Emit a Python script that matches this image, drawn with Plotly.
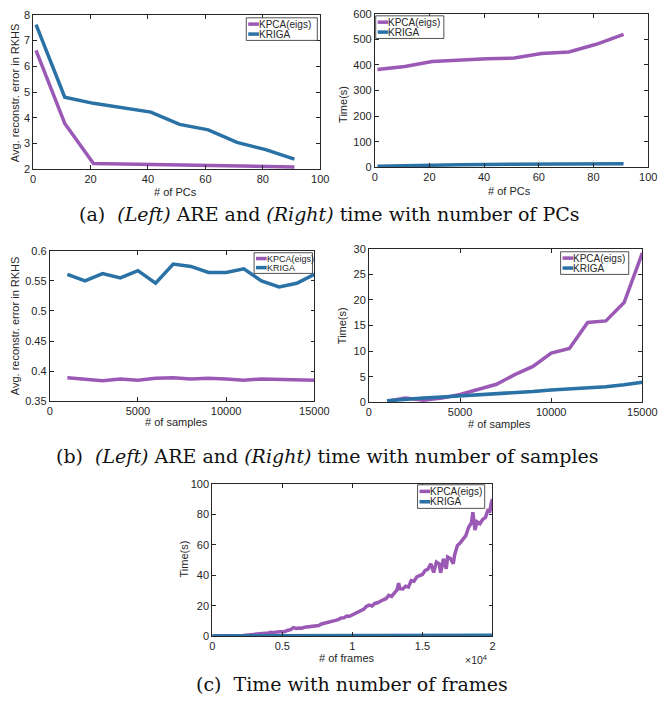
import plotly.graph_objects as go

W, H = 670, 711

# ---------------- data ----------------
pcs = [1, 11, 21, 31, 41, 51, 61, 71, 81, 91]
are_pcs_kpca = [6.62, 3.78, 2.22, 2.20, 2.19, 2.17, 2.14, 2.12, 2.10, 2.09]
are_pcs_kriga = [7.62, 4.80, 4.56, 4.38, 4.22, 3.74, 3.53, 3.04, 2.76, 2.39]

time_pcs_kpca = [382, 394, 414, 420, 424, 427, 445, 451, 481, 520]
time_pcs_kriga = [4, 7, 9, 10, 11, 11, 12, 12, 13, 14]

samples = [1000, 2000, 3000, 4000, 5000, 6000, 7000, 8000, 9000, 10000,
           11000, 12000, 13000, 14000, 15000]
are_s_kpca = [0.389, 0.386, 0.384, 0.387, 0.385, 0.388, 0.389, 0.387, 0.388,
              0.387, 0.385, 0.387, 0.386, 0.385, 0.385]
are_s_kriga = [0.561, 0.550, 0.562, 0.555, 0.567, 0.546, 0.578, 0.574, 0.564,
               0.564, 0.570, 0.550, 0.540, 0.546, 0.561]

time_s_kpca = [0.2, 0.8, 0.4, 0.8, 1.5, 2.5, 3.5, 5.4, 7.0, 9.6, 10.5, 15.6,
               15.9, 19.5, 29.2]
time_s_kriga = [0.3, 0.6, 0.8, 1.0, 1.2, 1.5, 1.7, 1.9, 2.1, 2.4, 2.6, 2.8,
                3.0, 3.4, 3.9]

frames_kpca = [0, 200, 400, 600, 800, 1000, 1200, 1400, 1600, 1800,
               2000, 2200, 2400, 2600, 2800, 3000, 3200, 3400, 3600, 3800,
               4000, 4200, 4400, 4600, 4800, 5000, 5200, 5400, 5600, 5800,
               6000, 6200, 6400, 6600, 6800, 7000, 7200, 7400, 7600, 7800,
               8000, 8200, 8400, 8600, 8800, 9000, 9200, 9400, 9600, 9800,
               10000, 10200, 10400, 10600, 10800, 11000, 11200, 11400, 11600, 11800,
               12000, 12200, 12400, 12600, 12800, 13000, 13200, 13300, 13400, 13600,
               13800, 14000, 14200, 14400, 14600, 14800, 15000, 15200, 15400, 15600,
               15800, 16000, 16200, 16300, 16500, 16700, 16800, 17000, 17200, 17300,
               17500, 17700, 17900, 18100, 18300, 18500, 18600, 18750, 18900, 19100,
               19300, 19500, 19700, 19800, 19900, 20000]
time_f_kpca = [0.1, 0.1, 0.1, 0.1, 0.1, 0.15, 0.2, 0.2, 0.3, 0.3,
               0.4, 0.5, 0.7, 0.8, 1.0, 1.2, 1.5, 1.4, 1.8, 2.0,
               2.1, 2.5, 2.3, 2.8, 3.0, 3.3, 3.1, 3.9, 4.3, 5.6,
               5.1, 5.4, 5.2, 5.9, 6.1, 6.4, 6.9, 7.2, 7.0, 8.0,
               8.4, 8.9, 9.1, 9.9, 10.4, 10.9, 11.9, 12.1, 13.2, 13.1,
               14.0, 14.8, 15.9, 17.0, 17.6, 19.5, 20.4, 19.8, 21.5, 21.9,
               22.6, 23.9, 24.6, 26.8, 26.1, 28.6, 30.5, 34.8, 31.2, 31.0,
               32.8, 32.2, 36.5, 36.0, 38.9, 39.8, 40.5, 43.2, 44.0, 47.5,
               41.8, 48.6, 47.3, 41.6, 50.8, 44.2, 52.0, 51.0, 47.5, 53.5,
               59.5, 61.2, 63.5, 66.0, 71.5, 74.5, 81.3, 69.6, 75.0, 73.8,
               76.6, 78.0, 83.5, 81.0, 86.8, 90.0]
frames_kriga = [0, 2500, 5000, 7500, 10000, 12500, 15000, 17500, 20000]
time_f_kriga = [0.2, 0.25, 0.3, 0.35, 0.4, 0.45, 0.5, 0.55, 0.6]

names = ["KPCA(eigs)", "KRIGA"]
PURPLE = "#9b59b6"
BLUE = "#2a71a6"
AX = "#262626"
SANS = "Liberation Sans, Arial, Helvetica, sans-serif"
SERIF = "DejaVu Serif, Liberation Serif, serif"


def px(x):
    return x / W


def py(y):
    return 1 - y / H


fig = go.Figure()
shapes = []
annotations = []

panels = [
    dict(box=(31, 326, 9, 166), k=(pcs, are_pcs_kpca), r=(pcs, are_pcs_kriga),
         xr=[0, 100], yr=[2, 8], xt=[0, 20, 40, 60, 80, 100], xtt=None,
         yt=[2, 3, 4, 5, 6, 7, 8], ytt=None, leg=(250, 323, 12, 35), lf=10,
         xtitle=("# of PCs", 177, 189), ytitle=("Avg. reconstr. error in RKHS", 12, 88)),
    dict(box=(382, 663, 8, 164), k=(pcs, time_pcs_kpca), r=(pcs, time_pcs_kriga),
         xr=[0, 100], yr=[0, 600], xt=[0, 20, 40, 60, 80, 100], xtt=None,
         yt=[0, 100, 200, 300, 400, 500, 600], ytt=None, leg=(383, 453, 10, 33), lf=10,
         xtitle=("# of PCs", 520, 188), ytitle=("Time(s)", 350, 100)),
    dict(box=(48, 320, 249, 402), k=(samples, are_s_kpca), r=(samples, are_s_kriga),
         xr=[0, 15000], yr=[0.35, 0.6], xt=[0, 5000, 10000, 15000], xtt=None,
         yt=[0.35, 0.4, 0.45, 0.5, 0.55, 0.6],
         ytt=["0.35", "0.4", "0.45", "0.5", "0.55", "0.6"], leg=(258, 318, 251, 272), lf=9,
         xtitle=("# of samples", 178, 423), ytitle=("Avg. reconstr. error in RKHS", 12, 325)),
    dict(box=(376, 657, 247, 403), k=(samples, time_s_kpca), r=(samples, time_s_kriga),
         xr=[0, 15000], yr=[0, 30], xt=[0, 5000, 10000, 15000], xtt=None,
         yt=[0, 5, 10, 15, 20, 25, 30], ytt=None, leg=(573, 643, 250, 273), lf=10,
         xtitle=("# of samples", 510, 425), ytitle=("Time(s)", 348, 325)),
    dict(box=(215, 503, 486, 641), k=(frames_kpca, time_f_kpca), r=(frames_kriga, time_f_kriga),
         xr=[0, 20000], yr=[0, 100], xt=[0, 5000, 10000, 15000, 20000],
         xtt=["0", "0.5", "1", "1.5", "2"],
         yt=[0, 20, 40, 60, 80, 100], ytt=None, leg=(426, 495, 487, 511), lf=10,
         xtitle=("# of frames", 353, 663), ytitle=("Time(s)", 186, 563)),
]

layout_axes = {}
for i, p in enumerate(panels, start=1):
    x0, x1, y0, y1 = p["box"]
    xa = "x" if i == 1 else f"x{i}"
    ya = "y" if i == 1 else f"y{i}"
    xkey = "xaxis" if i == 1 else f"xaxis{i}"
    ykey = "yaxis" if i == 1 else f"yaxis{i}"
    common = dict(showline=True, linecolor=AX, linewidth=0.8, mirror="allticks",
                  ticks="inside", ticklen=4, tickcolor=AX, tickwidth=0.8,
                  showgrid=False, zeroline=False,
                  tickfont=dict(family=SANS, size=11, color=AX))
    xd = dict(common, domain=[px(x0), px(x1)], range=p["xr"], anchor=ya,
              tickvals=p["xt"], tickformat="d")
    if p["xtt"] is not None:
        xd["ticktext"] = p["xtt"]
    yd = dict(common, domain=[py(y1), py(y0)], range=p["yr"], anchor=xa,
              tickvals=p["yt"])
    if p["ytt"] is not None:
        yd["ticktext"] = p["ytt"]
    layout_axes[xkey] = xd
    layout_axes[ykey] = yd

    fig.add_trace(go.Scatter(x=p["k"][0], y=p["k"][1], mode="lines", name=names[0],
                             line=dict(color=PURPLE, width=3.5), xaxis=xa, yaxis=ya,
                             showlegend=False))
    fig.add_trace(go.Scatter(x=p["r"][0], y=p["r"][1], mode="lines", name=names[1],
                             line=dict(color=BLUE, width=3.5), xaxis=xa, yaxis=ya,
                             showlegend=False))

    # manual legend (MATLAB style)
    lx0, lx1, ly0, ly1 = p["leg"]
    shapes.append(dict(type="rect", xref="paper", yref="paper",
                       x0=px(lx0), x1=px(lx1), y0=py(ly1), y1=py(ly0),
                       line=dict(color=AX, width=0.8), fillcolor="white", layer="above"))
    rows = [ly0 + (ly1 - ly0) * 0.28, ly0 + (ly1 - ly0) * 0.72]
    for name, col, yy in zip(names, [PURPLE, BLUE], rows):
        shapes.append(dict(type="line", xref="paper", yref="paper",
                           x0=px(lx0 + 2), x1=px(lx0 + 13), y0=py(yy), y1=py(yy),
                           line=dict(color=col, width=3.5), layer="above"))
        annotations.append(dict(text=name, xref="paper", yref="paper", x=px(lx0 + 12),
                                y=py(yy), xanchor="left", yanchor="middle", showarrow=False,
                                borderpad=0,
                                font=dict(family=SANS, size=p["lf"], color=AX)))

    t, tx, ty = p["xtitle"]
    annotations.append(dict(text=t, xref="paper", yref="paper", x=px(tx), y=py(ty),
                            xanchor="center", yanchor="middle", showarrow=False,
                            font=dict(family=SANS, size=11, color=AX)))
    t, tx, ty = p["ytitle"]
    annotations.append(dict(text=t, xref="paper", yref="paper", x=px(tx), y=py(ty),
                            xanchor="center", yanchor="middle", showarrow=False,
                            textangle=-90, font=dict(family=SANS, size=11, color=AX)))

# x10^4 exponent for (c)
annotations.append(dict(text="×10<sup>4</sup>", xref="paper", yref="paper", x=px(486),
                        y=py(665), xanchor="center", yanchor="middle", showarrow=False,
                        font=dict(family=SANS, size=10.5, color=AX)))

captions = [
    ("(a)&nbsp; <i>(Left)</i> ARE and <i>(Right)</i> time with number of PCs", 335, 212),
    ("(b)&nbsp; <i>(Left)</i> ARE and <i>(Right)</i> time with number of samples", 333, 458),
    ("(c)&nbsp; Time with number of frames", 359, 690),
]
for t, tx, ty in captions:
    annotations.append(dict(text=t, xref="paper", yref="paper", x=px(tx), y=py(ty),
                            xanchor="center", yanchor="middle", showarrow=False,
                            font=dict(family=SERIF, size=19, color="#111111")))

fig.update_layout(width=W, height=H, margin=dict(l=0, r=0, t=0, b=0),
                  paper_bgcolor="white", plot_bgcolor="white", showlegend=False,
                  shapes=shapes, annotations=annotations, **layout_axes)

fig.write_html("out.html", config={"displayModeBar": False},
               post_script="document.body.style.margin='0';document.body.style.padding='0';")
